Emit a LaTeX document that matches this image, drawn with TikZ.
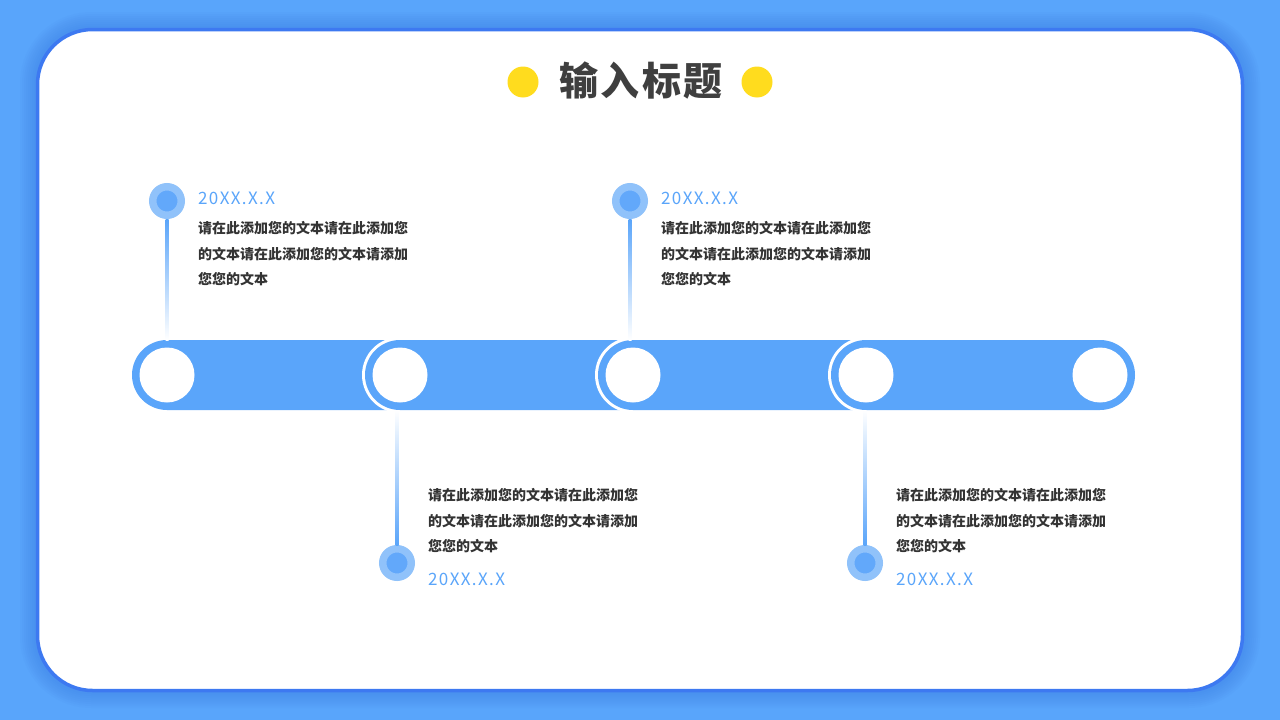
\documentclass[tikz,border=0pt]{standalone}
\usepackage{fontspec}
\newfontfamily\cjk{Noto Sans CJK SC}
\newfontfamily\cjktitle{Noto Sans CJK SC}[LetterSpace=6]
\newfontfamily\datefont{Noto Sans CJK SC}[LetterSpace=8]
\usepackage{xcolor}
\definecolor{PageBlue}{HTML}{59A5FB}
\definecolor{BarBlue}{HTML}{5AA5FA}
\definecolor{EdgeBlue}{HTML}{3D79F1}
\definecolor{ShadeBlue}{HTML}{2F64D8}
\definecolor{RingBlue}{HTML}{90C2FA}
\definecolor{DotBlue}{HTML}{62A8FA}
\definecolor{TextGray}{HTML}{333333}
\definecolor{TitleGray}{HTML}{3F3F3F}
\definecolor{SunYellow}{HTML}{FFDC1E}
\usetikzlibrary{positioning, calc}

\newcommand\capsuleat[2]{%
    \begin{scope}
        \clip (0,340) rectangle (1280,410);
        \draw[white, line width=6pt, rounded corners=35pt] (#1,340) rectangle (#2,410);
    \end{scope}
    \fill[BarBlue, rounded corners=35pt] (#1,340) rectangle (#2,410);}

\begin{document}
\begin{tikzpicture}[
        x=1pt, y=-1pt,
        node distance=0pt,
        hole/.style={circle, fill=white, minimum size=55pt, inner sep=0pt},
        marker/.style={circle, fill=DotBlue, draw=RingBlue, line width=7.5pt, minimum size=28.5pt, inner sep=0pt},
        datelabel/.style={inner sep=0pt, text=BarBlue, font=\datefont\fontsize{17}{20}\selectfont},
        bodytext/.style={inner sep=0pt, align=left, text=TextGray, font=\cjk\bfseries\fontsize{14}{25.5}\selectfont},
        sun/.style={circle, fill=SunYellow, minimum size=31pt, inner sep=0pt}
    ]
        % page and card
        \fill[PageBlue] (0,0) rectangle (1280,720);
        \useasboundingbox (0,0) rectangle (1280,720);
        \foreach \s in {16,14,...,2}
            \fill[ShadeBlue, opacity=0.035, rounded corners=55pt+\s pt] (36-\s,28-\s) rectangle (1244+\s,692+\s);
        \draw[EdgeBlue, fill=white, line width=3.5pt, rounded corners=55pt] (37.5,29.5) rectangle (1242.5,690.5);

        % title
        \node[font=\cjktitle\bfseries\fontsize{39}{42}\selectfont, text=TitleGray] (title) at (641,81) {输入标题};
        \node[sun] (sunL) at (523,82) {};
        \node[sun] (sunR) at (757,82) {};

        % timeline bar
        \capsuleat{132}{435}
        \capsuleat{365}{668}
        \capsuleat{598}{901}
        \capsuleat{831}{1135}

        \node[hole] (h1) at (167,375) {};
        \node[hole] (h2) at (400,375) {};
        \node[hole] (h3) at (633,375) {};
        \node[hole] (h4) at (866,375) {};
        \node[hole] (h5) at (1100,375) {};

        % markers
        \node[marker] (m1) at (167,201) {};
        \node[marker] (m2) at (397,563) {};
        \node[marker] (m3) at (630,201) {};
        \node[marker] (m4) at (865,563) {};

        % stems
        \shade[top color=BarBlue, bottom color=white] ($(m1.south)+(-1.5,0)$) rectangle ($(m1.south|-h1.center)+(1.5,-35)$);
        \shade[top color=BarBlue, bottom color=white] ($(m3.south)+(-1.5,0)$) rectangle ($(m3.south|-h3.center)+(1.5,-35)$);
        \shade[top color=white, bottom color=BarBlue] ($(m2.north|-h2.center)+(-1.5,35)$) rectangle ($(m2.north)+(1.5,0)$);
        \shade[top color=white, bottom color=BarBlue] ($(m4.north|-h4.center)+(-1.5,35)$) rectangle ($(m4.north)+(1.5,0)$);

        % upper items
        \node[datelabel, right=13pt of m1, yshift=3pt] (d1) {20XX.X.X};
        \node[bodytext, anchor=north west] (t1) at ([yshift=-17pt]d1.south west) {请在此添加您的文本请在此添加您\\的文本请在此添加您的文本请添加\\您您的文本};
        \node[datelabel, right=13pt of m3, yshift=3pt] (d3) {20XX.X.X};
        \node[bodytext, anchor=north west] (t3) at ([yshift=-17pt]d3.south west) {请在此添加您的文本请在此添加您\\的文本请在此添加您的文本请添加\\您您的文本};

        % lower items
        \node[datelabel, right=13pt of m2, yshift=-16pt] (d2) {20XX.X.X};
        \node[bodytext, anchor=south west] (t2) at ([yshift=19pt]d2.north west) {请在此添加您的文本请在此添加您\\的文本请在此添加您的文本请添加\\您您的文本};
        \node[datelabel, right=13pt of m4, yshift=-16pt] (d4) {20XX.X.X};
        \node[bodytext, anchor=south west] (t4) at ([yshift=19pt]d4.north west) {请在此添加您的文本请在此添加您\\的文本请在此添加您的文本请添加\\您您的文本};
    \end{tikzpicture}
\end{document}
